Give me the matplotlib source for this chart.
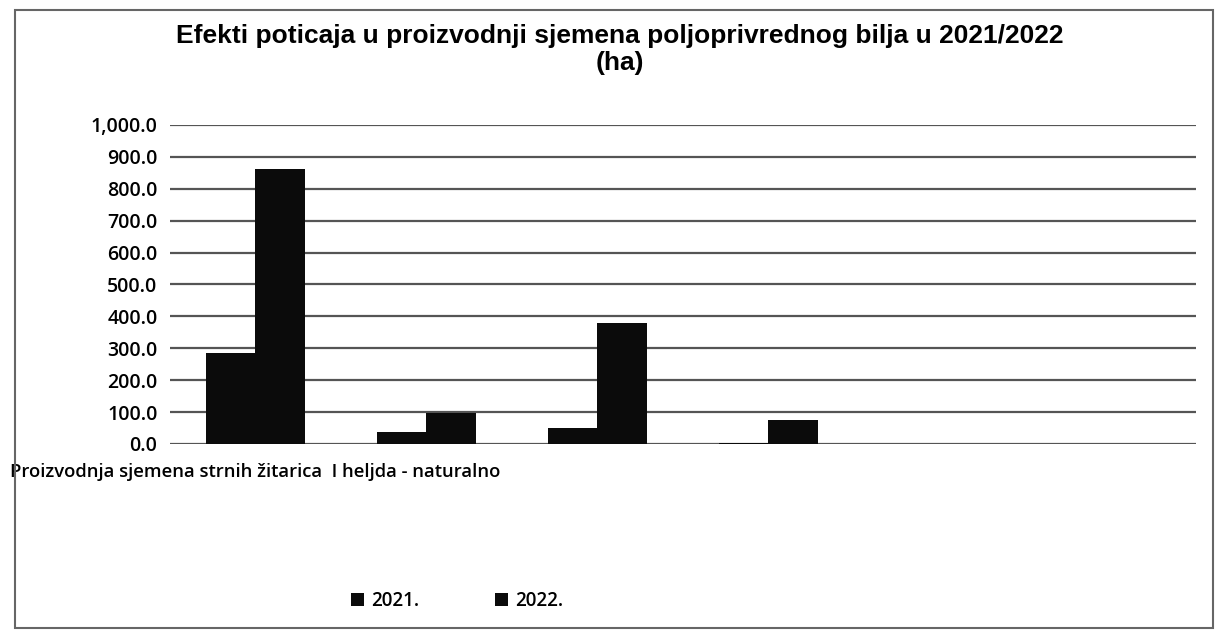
import numpy as np
import matplotlib.pyplot as plt
from matplotlib.patches import Rectangle

# categories (only the first label fits under its group)
categories = ["Proizvodnja sjemena strnih žitarica  I heljda - naturalno", "", "", "", "", ""]
series_names = ["2021.", "2022."]
values_2021 = [285, 37, 50, 3, 0, 0]
values_2022 = [862, 98, 380, 75, 0, 0]
y_ticks = [0, 100, 200, 300, 400, 500, 600, 700, 800, 900, 1000]

fig = plt.figure(figsize=(12.2, 6.36), dpi=100)
ax = fig.add_axes([0.1393, 0.302, 0.8407, 0.5015])

x = np.arange(len(categories))
w = 0.29
ax.bar(x - w / 2, values_2021, width=w, color="#0b0b0b", label=series_names[0], zorder=3)
ax.bar(x + w / 2, values_2022, width=w, color="#0b0b0b", label=series_names[1], zorder=3)

ax.set_xlim(-0.5, len(categories) - 0.5)
ax.set_ylim(0, 1000)
ax.set_yticks(y_ticks)
ax.set_yticklabels([f"{v:,.1f}" for v in y_ticks], fontfamily="Open Sans",
                   fontweight="semibold", fontsize=14)
ax.set_xticks(x)
ax.set_xticklabels(categories, fontfamily="Open Sans", fontweight="semibold", fontsize=13.3)
ax.tick_params(axis="y", length=0, pad=9)
ax.tick_params(axis="x", length=0, pad=14)
ax.grid(axis="y", color="#555555", linewidth=1.6, zorder=0)
for s in ax.spines.values():
    s.set_visible(False)

fig.text(0.508, 0.943, "Efekti poticaja u proizvodnji sjemena poljoprivrednog bilja u 2021/2022",
         ha="center", va="center", fontfamily="Liberation Sans", fontweight="bold", fontsize=19)
fig.text(0.508, 0.901, "(ha)", ha="center", va="center",
         fontfamily="Liberation Sans", fontweight="bold", fontsize=19)

leg = fig.legend(loc="center", bbox_to_anchor=(0.3746, 0.055), ncol=2, frameon=False,
                 prop={"family": "Open Sans", "weight": "semibold", "size": 13.5},
                 handlelength=0.7, handleheight=0.7, handletextpad=0.4, columnspacing=4.0)

# outer chart border
fig.patches.append(Rectangle((0.012, 0.013), 0.982, 0.972, transform=fig.transFigure,
                             fill=False, edgecolor="#666666", linewidth=1.5))

fig.savefig("out.png", dpi=100)
